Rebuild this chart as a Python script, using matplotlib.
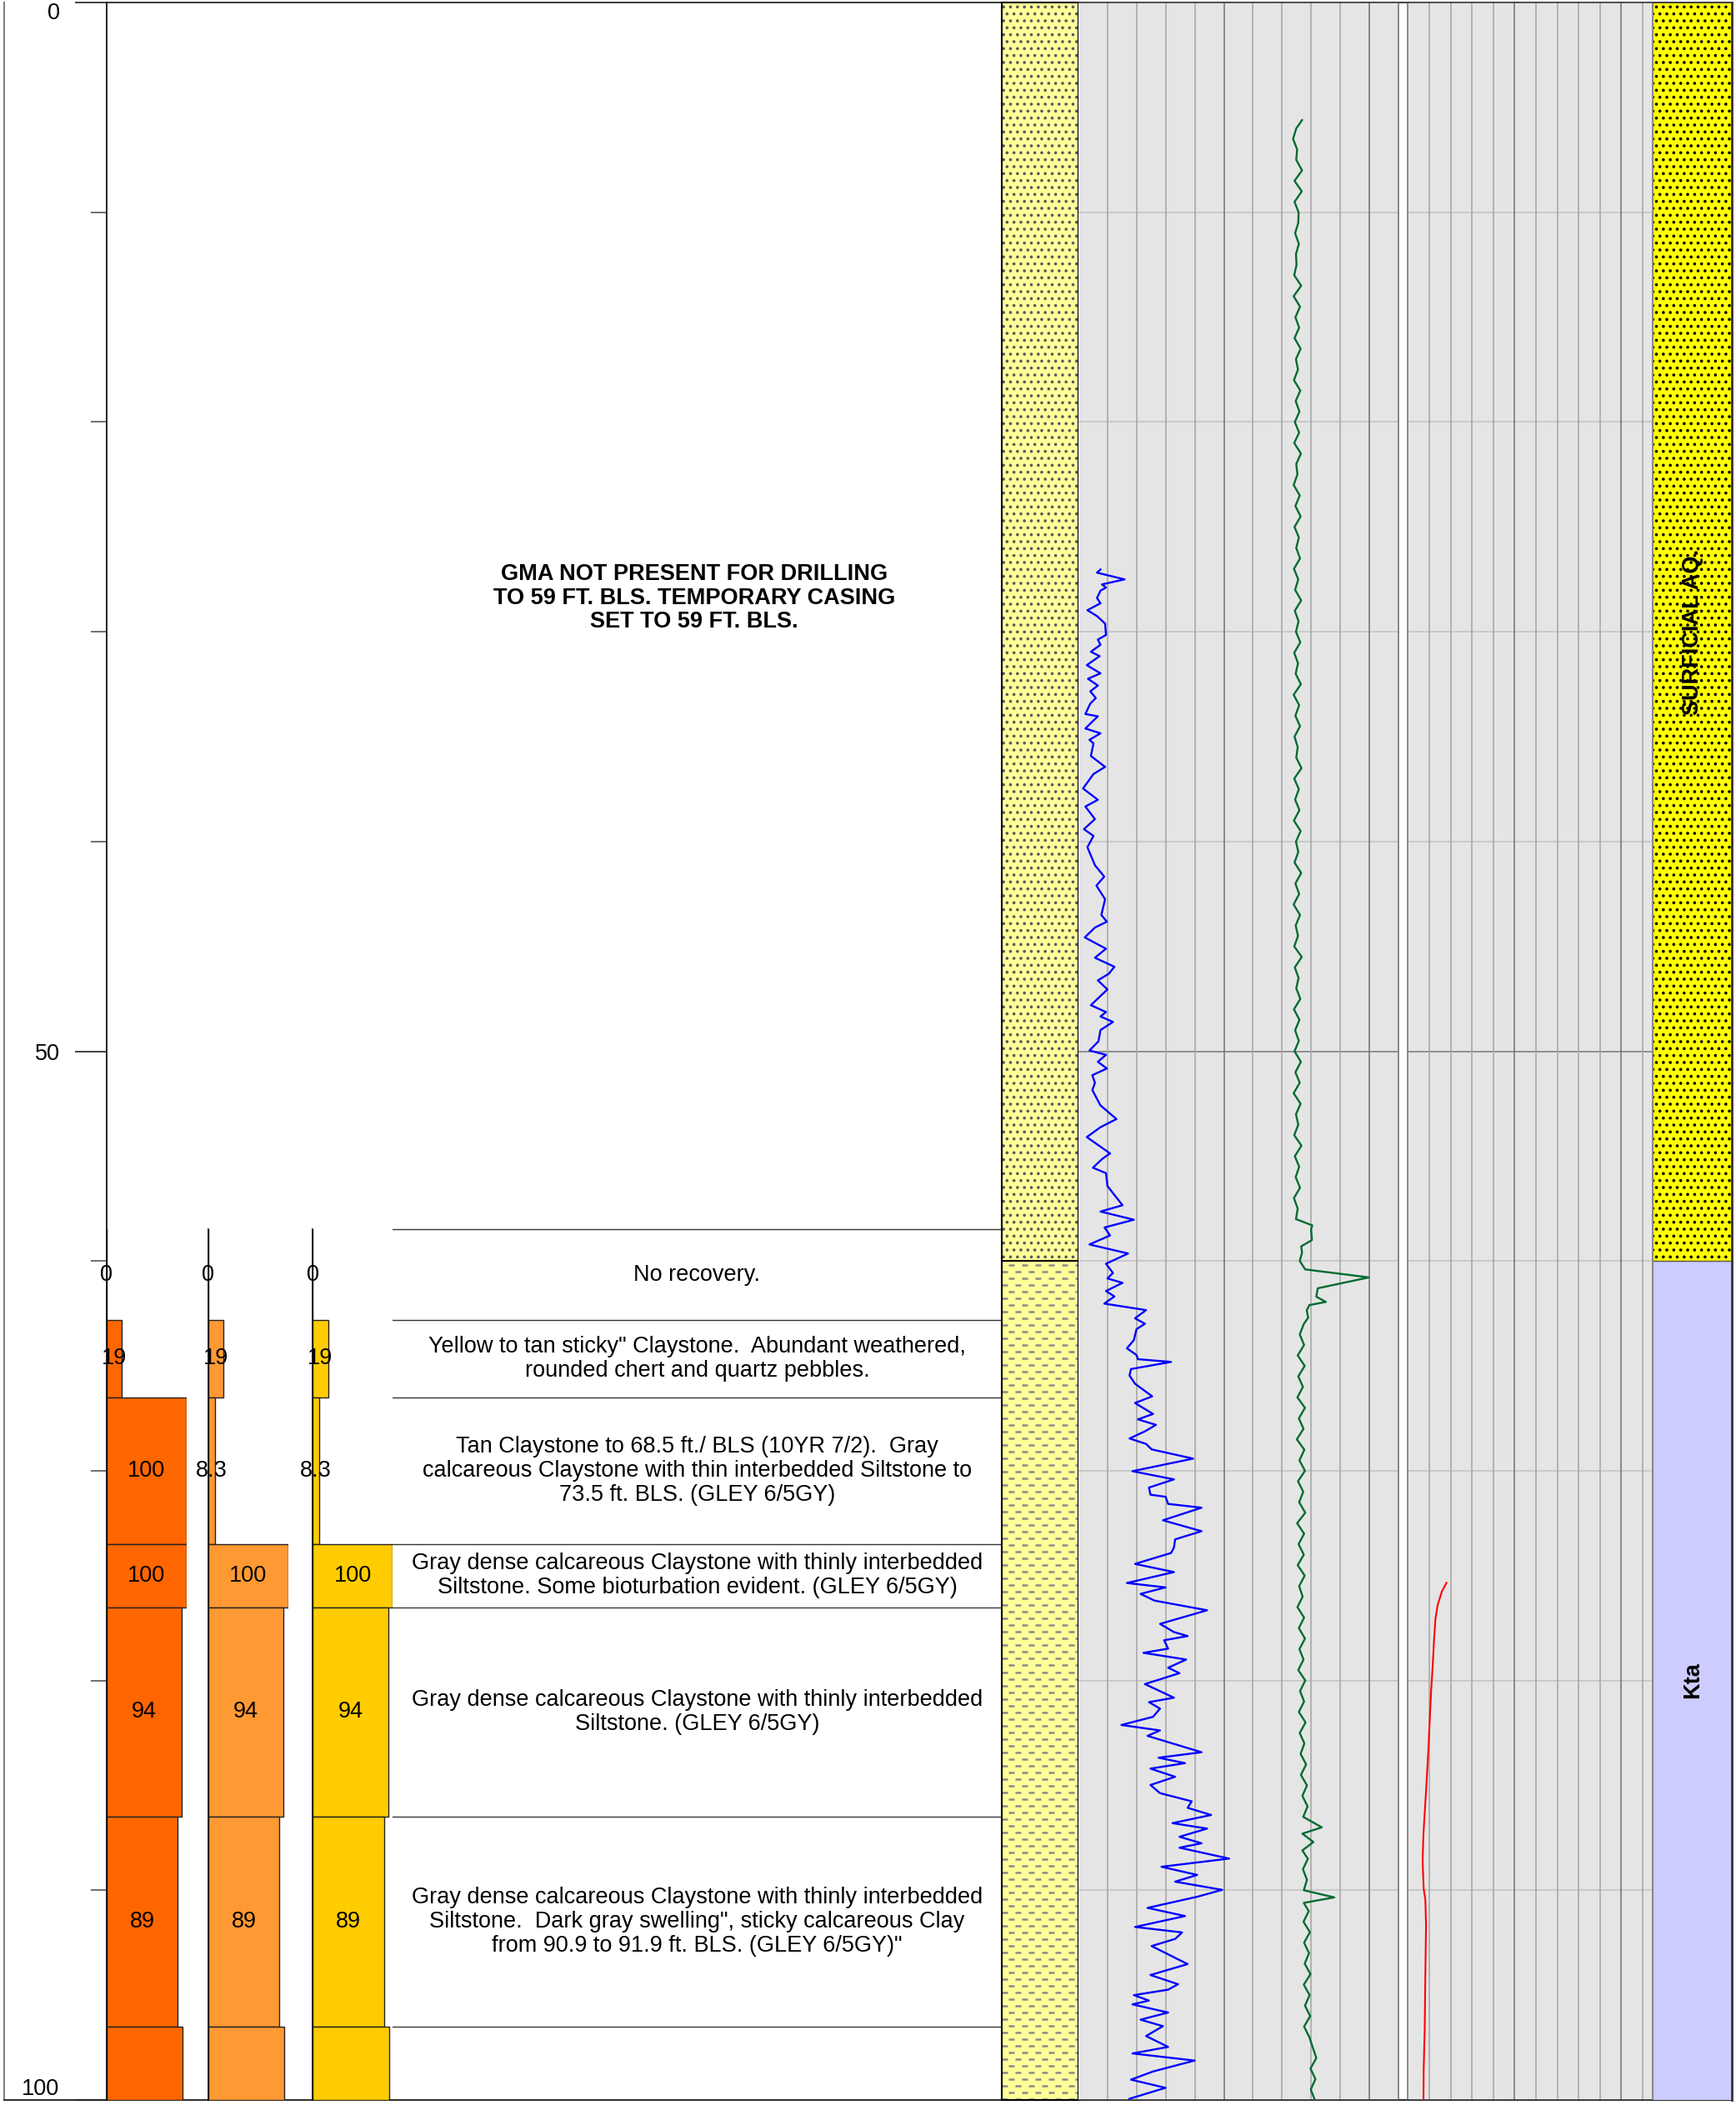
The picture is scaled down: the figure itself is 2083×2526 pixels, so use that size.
import numpy as np
import matplotlib.pyplot as plt
from matplotlib.patches import Rectangle
from matplotlib.collections import LineCollection

plt.rcParams['font.family'] = ['Liberation Sans', 'DejaVu Sans']
plt.rcParams['hatch.linewidth'] = 1.4

W, H = 2083, 2526
Y_TOP, Y_BOT = 3.1, 2520.0   # pixel rows of depth 0 and depth 100
FS = 19.5

# ---- core intervals (ft) and recovery values ----
int_top = [58.5, 62.8, 66.5, 73.5, 76.5, 86.5, 96.5]
int_bot = [62.8, 66.5, 73.5, 76.5, 86.5, 96.5, 100.0]
rec_a = [0, 19, 100, 100, 94, 89, 95]
rec_b = [0, 19, 8.3, 100, 94, 89, 95]
rec_c = [0, 19, 8.3, 100, 94, 89, 95]
show_label = [True, True, True, True, True, True, False]

descriptions = [
    "No recovery.",
    "Yellow to tan sticky\" Claystone.  Abundant weathered,\nrounded chert and quartz pebbles.",
    "Tan Claystone to 68.5 ft./ BLS (10YR 7/2).  Gray\ncalcareous Claystone with thin interbedded Siltstone to\n73.5 ft. BLS. (GLEY 6/5GY)",
    "Gray dense calcareous Claystone with thinly interbedded\nSiltstone. Some bioturbation evident. (GLEY 6/5GY)",
    "Gray dense calcareous Claystone with thinly interbedded\nSiltstone. (GLEY 6/5GY)",
    "Gray dense calcareous Claystone with thinly interbedded\nSiltstone.  Dark gray swelling\", sticky calcareous Clay\nfrom 90.9 to 91.9 ft. BLS. (GLEY 6/5GY)\"",
    "",
]
note_text = "GMA NOT PRESENT FOR DRILLING\nTO 59 FT. BLS. TEMPORARY CASING\nSET TO 59 FT. BLS."
note_depth = 28.4

# lithology and formation units
lith_top = [0, 60]
lith_bot = [60, 100]
lith_kind = ['sand', 'clay']
form_top = [0, 60]
form_bot = [60, 100]
form_name = ['SURFICIAL AQ.', 'Kta']
form_color = ['#FFFF00', '#CCCCFF']

# ---- log curves ----
blue_depth = [27.03, 27.18, 27.50, 27.74, 27.89, 28.04, 28.39, 28.64, 28.97, 29.25,
              29.61, 30.15, 30.37, 30.62, 30.95, 31.16, 31.59, 31.98, 32.24, 32.56,
              32.84, 33.16, 33.42, 33.92, 34.03, 34.35, 34.61, 34.84, 35.15, 35.32,
              35.92, 36.44, 36.78, 37.47, 38.01, 38.33, 38.93, 39.41, 39.73, 40.27,
              41.13, 41.67, 42.10, 42.75, 43.50, 43.82, 44.10, 44.57, 45.11, 45.54,
              45.97, 46.30, 46.62, 47.05, 47.80, 48.13, 48.34, 48.60, 48.99, 49.53,
              49.96, 50.17, 50.50, 50.82, 51.14, 51.51, 51.85, 52.58, 53.23, 53.62,
              54.09, 54.41, 54.87, 55.12, 55.55, 55.81, 56.42, 56.85, 57.34, 57.64,
              58.03, 58.40, 58.78, 59.21, 59.64, 60.13, 60.57, 60.83, 61.04, 61.43,
              61.69, 62.03, 62.34, 62.73, 62.99, 63.25, 63.77, 64.16, 64.48, 64.68,
              64.81, 65.15, 65.46, 65.85, 66.45, 66.77, 67.29, 67.55, 67.81, 68.12,
              68.46, 68.72, 68.98, 69.42, 70.02, 70.41, 70.80, 71.14, 71.24, 71.58,
              71.76, 72.36, 72.88, 73.27, 73.66, 73.92, 74.44, 74.83, 75.35, 75.56,
              75.87, 76.19, 76.65, 77.30, 77.69, 77.88, 78.08, 78.48, 78.68, 79.00,
              79.39, 79.65, 80.17, 80.82, 81.03, 81.34, 81.73, 82.12, 82.38, 82.64,
              83.42, 83.68, 83.94, 84.20, 84.59, 84.98, 85.37, 85.76, 86.07, 86.41,
              86.80, 87.06, 87.45, 87.76, 87.97, 88.49, 88.88, 89.27, 89.59, 89.98,
              90.31, 90.84, 91.23, 91.75, 92.01, 92.32, 92.66, 93.52, 94.04, 94.48,
              94.74, 95.00, 95.26, 95.44, 95.83, 96.17, 96.48, 96.95, 97.47, 97.78,
              98.12, 98.64, 99.03, 99.42, 99.94]
blue_val = [7.5, 6.3, 15.8, 8.0, 9.4, 7.5, 6.3, 7.5, 3.0, 6.3,
            9.1, 9.4, 6.6, 7.5, 4.2, 7.2, 2.8, 7.5, 3.2, 6.6,
            4.0, 5.9, 4.0, 2.3, 6.6, 4.2, 2.3, 7.5, 3.7, 5.1,
            4.2, 9.1, 5.1, 1.5, 6.6, 2.3, 5.6, 1.8, 5.1, 3.0,
            5.6, 8.8, 6.1, 9.1, 7.8, 9.7, 5.6, 2.1, 9.4, 5.6,
            12.3, 10.4, 6.6, 9.9, 4.2, 9.4, 7.5, 11.8, 7.5, 6.8,
            3.7, 9.4, 6.6, 9.7, 4.7, 5.6, 4.7, 7.5, 13.0, 7.5,
            2.8, 6.1, 10.8, 8.2, 4.9, 9.4, 9.9, 12.3, 15.1, 7.5,
            19.0, 8.9, 10.8, 3.7, 17.0, 9.4, 11.8, 9.9, 15.1, 9.4,
            12.3, 8.8, 23.2, 19.4, 22.8, 19.9, 19.0, 16.6, 19.9, 20.4,
            31.8, 18.0, 17.5, 19.4, 25.3, 19.4, 25.6, 20.4, 26.6, 22.8,
            17.5, 23.2, 25.1, 39.4, 18.5, 32.8, 24.2, 24.7, 29.9, 30.8,
            42.3, 29.0, 42.3, 33.2, 32.8, 31.8, 19.4, 32.8, 16.6, 29.9,
            21.3, 26.1, 44.2, 28.0, 32.8, 37.5, 29.4, 30.8, 22.3, 37.0,
            30.8, 34.7, 22.8, 32.8, 24.2, 28.0, 25.6, 14.7, 28.0, 23.7,
            42.3, 27.5, 36.6, 24.7, 33.2, 24.7, 28.0, 38.9, 37.5, 45.6,
            32.3, 44.2, 34.7, 42.3, 34.7, 51.8, 28.5, 40.8, 33.2, 49.4,
            40.8, 23.7, 36.6, 19.4, 35.6, 33.2, 25.1, 37.5, 24.7, 34.2,
            30.8, 19.0, 24.2, 18.5, 30.8, 21.3, 29.0, 23.2, 30.8, 18.5,
            39.9, 25.6, 18.0, 29.9, 17.5]

green_depth = [5.6, 6.0, 6.5, 7.0, 7.5, 8.0, 8.5, 9.0, 9.5, 10.0,
               10.5, 11.0, 11.5, 12.0, 12.5, 13.0, 13.5, 14.0, 14.5, 15.0,
               15.5, 16.0, 16.5, 17.0, 17.5, 18.0, 18.5, 19.0, 19.5, 20.0,
               20.5, 21.0, 21.5, 22.0, 22.5, 23.0, 23.5, 24.0, 24.5, 25.0,
               25.5, 26.0, 26.5, 27.0, 27.5, 28.0, 28.5, 29.0, 29.5, 30.0,
               30.5, 31.0, 31.5, 32.0, 32.5, 33.0, 33.5, 34.0, 34.5, 35.0,
               35.5, 36.0, 36.5, 37.0, 37.5, 38.0, 38.5, 39.0, 39.5, 40.0,
               40.5, 41.0, 41.5, 42.0, 42.5, 43.0, 43.5, 44.0, 44.5, 45.0,
               45.5, 46.0, 46.5, 47.0, 47.5, 48.0, 48.5, 49.0, 49.5, 50.0,
               50.5, 51.0, 51.5, 52.0, 52.5, 53.0, 53.5, 54.0, 54.5, 55.0,
               55.5, 56.0, 56.5, 57.0, 57.5, 58.0, 58.3, 58.5, 59.0, 59.3,
               59.6, 60.0, 60.4, 60.78, 61.3, 61.7, 61.95, 62.1, 62.35, 62.7,
               63.0, 63.5, 64.0, 64.5, 65.0, 65.5, 66.0, 66.5, 67.0, 67.5,
               68.0, 68.5, 69.0, 69.5, 70.0, 70.5, 71.0, 71.5, 72.0, 72.5,
               73.0, 73.5, 74.0, 74.5, 75.0, 75.5, 76.0, 76.5, 77.0, 77.5,
               78.0, 78.5, 79.0, 79.5, 80.0, 80.5, 81.0, 81.5, 82.0, 82.5,
               83.0, 83.5, 84.0, 84.5, 85.0, 85.5, 86.0, 86.5, 87.0, 87.3,
               87.7, 88.1, 88.5, 89.0, 89.5, 90.0, 90.34, 90.6, 91.0, 91.5,
               92.0, 92.5, 93.0, 93.5, 94.0, 94.5, 95.0, 95.5, 96.0, 96.5,
               97.0, 97.5, 98.0, 98.5, 99.0, 99.5, 100.0]
green_val = [76.9, 74.9, 73.8, 75.2, 74.9, 76.9, 74.3, 76.8, 74.3, 75.7,
             75.6, 74.5, 75.8, 74.8, 75.0, 74.2, 76.6, 74.0, 76.2, 74.6,
             75.9, 74.3, 76.4, 74.8, 75.5, 74.1, 76.3, 74.7, 76.0, 74.4,
             75.9, 74.2, 76.5, 74.9, 75.3, 74.0, 76.1, 74.6, 76.4, 74.3,
             75.8, 74.9, 76.2, 74.1, 75.6, 74.5, 76.6, 74.4, 75.7, 74.8,
             76.3, 74.2, 75.5, 74.7, 76.5, 74.0, 75.9, 74.6, 76.2, 74.3,
             75.4, 74.9, 76.7, 74.2, 75.8, 74.5, 76.0, 74.1, 76.4, 74.8,
             75.6, 74.3, 76.6, 74.6, 75.9, 74.0, 76.2, 74.7, 75.5, 74.2,
             76.8, 74.4, 75.7, 74.9, 76.3, 74.1, 76.0, 74.5, 75.8, 74.3,
             76.5, 74.6, 76.1, 74.0, 76.4, 74.8, 75.6, 74.2, 76.7, 74.4,
             75.9, 74.7, 76.2, 74.1, 75.4, 74.8, 80.4, 80.0, 80.3, 76.6,
             76.9, 76.1, 78.0, 99.9, 82.3, 81.8, 85.1, 79.4, 78.5, 79.0,
             77.5, 76.1, 77.6, 75.4, 77.8, 75.6, 77.2, 75.3, 77.9, 75.8,
             77.4, 75.1, 77.7, 76.0, 77.9, 75.5, 77.3, 75.9, 78.0, 75.2,
             77.6, 75.7, 77.5, 75.4, 77.8, 75.9, 77.1, 75.3, 77.6, 75.8,
             77.9, 76.0, 77.4, 75.6, 78.0, 76.2, 77.6, 75.8, 78.1, 76.1,
             77.7, 76.4, 78.3, 76.5, 78.6, 77.0, 78.8, 77.3, 83.7, 77.0,
             80.8, 77.0, 78.9, 77.2, 78.6, 77.5, 88.0, 77.5, 79.2, 77.4,
             79.6, 77.6, 79.3, 77.8, 79.8, 77.5, 79.5, 77.9, 79.7, 77.6,
             79.4, 80.6, 81.8, 79.8, 81.5, 79.9, 81.3]

red_depth = [75.34, 75.76, 76.42, 77.08, 78.0, 79.34, 80.66, 83.31, 85.3, 87.29,
             88.6, 89.93, 90.46, 91.65, 93.9, 96.55, 98.54, 100.0]
red_val = [18.1, 15.9, 13.9, 12.9, 12.3, 11.6, 10.8, 9.6, 8.5, 7.3,
           6.9, 7.4, 8.2, 8.5, 8.2, 7.9, 7.4, 7.3]

TRACK1_MAX = 110
TRACK2_MAX = 114.8

fig = plt.figure(figsize=(W / 100, H / 100), dpi=100)


def add_col(x0, x1):
    ax = fig.add_axes([x0 / W, 1 - Y_BOT / H, (x1 - x0) / W, (Y_BOT - Y_TOP) / H])
    ax.set_ylim(100, 0)
    return ax


# frame overlay
bg = fig.add_axes([0, 0, 1, 1], zorder=-5)
bg.set_xlim(0, W)
bg.set_ylim(H, 0)
bg.axis('off')
bg.plot([5, 5], [Y_TOP, Y_BOT], color='#808080', lw=1.5)
bg.plot([5, 2078.3], [Y_BOT, Y_BOT], color='#333333', lw=1.5)
bg.plot([127.7, 2078.3], [Y_TOP, Y_TOP], color='#444444', lw=1.5)

# ---- recovery bar tracks ----
bar_cols = [(127.7, 223.7, rec_a, '#FF6600'),
            (249.7, 345.7, rec_b, '#FF9933'),
            (375.3, 471.3, rec_c, '#FFCC00')]
for i, (x0, x1, vals, col) in enumerate(bar_cols):
    ax = add_col(x0, x1)
    ax.set_xlim(0, 100)
    ax.patch.set_alpha(0)
    for s in ['top', 'right', 'bottom']:
        ax.spines[s].set_visible(False)
    ax.spines['left'].set_color('black')
    ax.spines['left'].set_linewidth(1.2)
    if i > 0:
        ax.spines['left'].set_bounds(int_top[0], 100)
    ax.barh([(t + b) / 2 for t, b in zip(int_top, int_bot)], vals,
            height=[b - t for t, b in zip(int_top, int_bot)],
            color=col, edgecolor='#222222', linewidth=1.0)
    for t, b, v, lab in zip(int_top, int_bot, vals, show_label):
        if lab:
            ax.text(v / 2, (t + b) / 2, '{:g}'.format(v), ha='center', va='center',
                    fontsize=FS, clip_on=False)
    ax.set_xticks([])
    if i == 0:
        ax.set_yticks([0, 50, 100])
        ax.set_yticks(np.arange(0, 101, 10), minor=True)
        ax.tick_params(axis='y', which='major', length=27.4, width=1.2,
                       color='#222222', labelsize=FS, pad=13)
        ax.tick_params(axis='y', which='minor', length=13.7, width=1.2,
                       color='#555555')
        ax.set_yticklabels(['0', '50', '100'])
        labs = ax.get_yticklabels()
        labs[0].set_va('top')
        labs[2].set_va('bottom')
    else:
        ax.set_yticks([])

# ---- description column ----
ad = add_col(471.3, 1201.7)
ad.set_xlim(0, 1)
ad.axis('off')
for t in int_top:
    ad.plot([0, 1], [t, t], color='#333333', lw=1.0)
for t, b, txt in zip(int_top, int_bot, descriptions):
    if txt:
        ad.text(0.5, (t + b) / 2, txt, ha='center', va='center', fontsize=FS,
                linespacing=1.13)
ad.text(0.495, note_depth, note_text, ha='center', va='center', fontsize=FS,
        fontweight='bold', linespacing=1.13)

# ---- lithology column ----
al = add_col(1201.7, 1294.3)
al.set_xlim(0, 1)
al.set_xticks([])
al.set_yticks([])
for s in al.spines.values():
    s.set_color('black')
    s.set_linewidth(1.5)
for t, b, kind in zip(lith_top, lith_bot, lith_kind):
    al.add_patch(Rectangle((0, t), 1, b - t, facecolor='#FFFF99', edgecolor='none'))
    if kind == 'sand':
        al.add_patch(Rectangle((0, t), 1, b - t, facecolor='none', edgecolor='#5a5a5a',
                               linewidth=0, hatch='..'))
    else:
        segs = []
        row = 0
        y = t + 0.2
        while y < b:
            off = 0.09 if row % 2 == 0 else 0.005
            x = off - 0.173
            while x < 1:
                xa, xb = max(x, 0.0), min(x + 0.076, 0.985)
                if xb > xa:
                    segs.append([(xa, y), (xb, y)])
                x += 0.173
            y += 0.318
            row += 1
        al.add_collection(LineCollection(segs, colors='#8a8a8a', linewidths=1.8))
    al.plot([0, 1], [b, b], color='black', lw=1.5)


# ---- log tracks ----
def log_track(x0, x1, xmax):
    ax = add_col(x0, x1)
    ax.set_xlim(0, xmax)
    ax.set_facecolor('#E5E5E5')
    ax.set_xticks([])
    ax.set_yticks([])
    for d in range(10, 100, 10):
        ax.axhline(d, color='#808080' if d == 50 else '#C4C4C4', lw=1.2, zorder=1)
    for v in range(10, int(xmax) + 1, 10):
        ax.axvline(v, color='#7a7a7a' if v % 50 == 0 else '#a8a8a8', lw=1.2, zorder=1)
    ax.spines['left'].set_visible(False)
    ax.spines['bottom'].set_color('#333333')
    ax.spines['top'].set_color('#444444')
    ax.spines['right'].set_color('#7a7a7a')
    for s in ax.spines.values():
        s.set_linewidth(1.2)
    return ax


at1 = log_track(1294.3, 1677.7, TRACK1_MAX)
at1.plot(blue_val, blue_depth, color='#0000FF', lw=1.7, zorder=3)
at1.plot(green_val, green_depth, color='#006B30', lw=1.7, zorder=3)

at2 = log_track(1689.3, 1983.3, TRACK2_MAX)
at2.spines['left'].set_visible(True)
at2.spines['left'].set_color('#7a7a7a')
at2.plot(red_val, red_depth, color='#FF0000', lw=1.5, zorder=3)

# ---- formation column ----
af = add_col(1983.3, 2078.3)
af.set_xlim(0, 1)
af.set_xticks([])
af.set_yticks([])
for t, b, name, col in zip(form_top, form_bot, form_name, form_color):
    af.add_patch(Rectangle((0, t), 1, b - t, facecolor=col, edgecolor='none'))
    if col == '#FFFF00':
        af.add_patch(Rectangle((0, t), 1, b - t, facecolor='none', edgecolor='black',
                               linewidth=0, hatch='..'))
    af.text(0.5, (t + b) / 2, name, rotation=90, ha='center', va='center',
            fontsize=FS, fontweight='bold')
af.axhline(60, color='#555555', lw=1.0)
af.spines['left'].set_color('#888888')
af.spines['right'].set_color('#333333')
af.spines['right'].set_linewidth(2.0)
af.spines['bottom'].set_color('#333333')
af.spines['top'].set_color('#444444')

fig.savefig('out.png', dpi=100)
